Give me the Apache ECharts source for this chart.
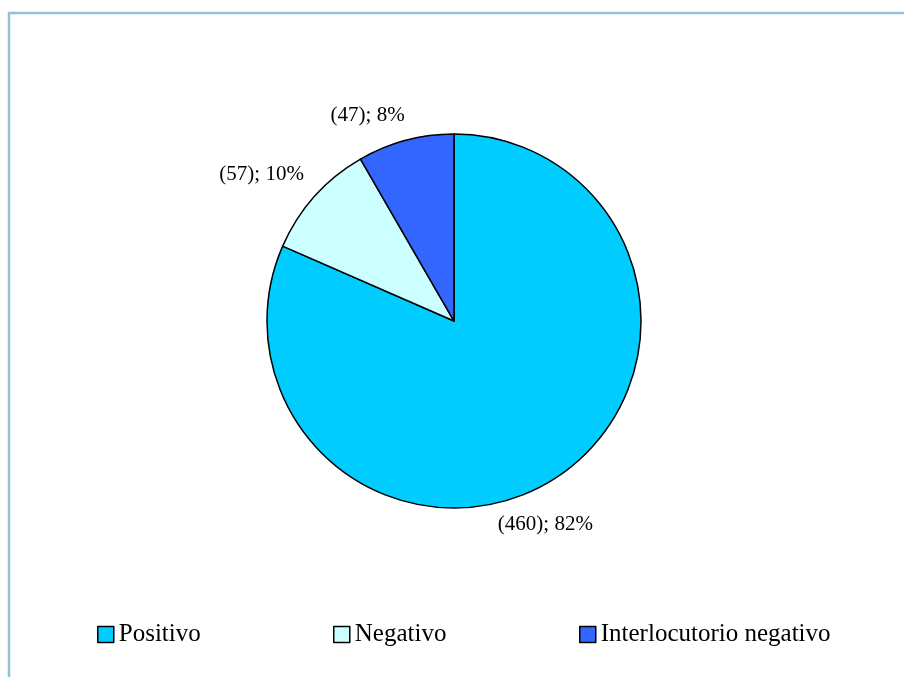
<!DOCTYPE html>
<html>
<head>
<meta charset="utf-8">
<script src="https://cdn.jsdelivr.net/npm/echarts@6/dist/echarts.min.js"></script>
<style>
html,body{margin:0;padding:0;background:#fff;}
#chart{width:904px;height:677px;}
</style>
</head>
<body>
<div id="chart"></div>
<script>
var categories = ['Positivo', 'Negativo', 'Interlocutorio negativo'];
var values = [460, 57, 47];
var colors = ['#00CCFF', '#CCFFFF', '#3366FF'];
// label nudges (dx, dy) relative to the default outside anchor
var labelShift = [[-16, 47], [-48, -22], [-33, -25]];
var legendLefts = [97, 333, 579];

var serif = "'Liberation Serif', 'Times New Roman', serif";

var chart = echarts.init(document.getElementById('chart'), null, {renderer: 'canvas'});

var data = categories.map(function (name, i) {
  return {name: name, value: values[i], itemStyle: {color: colors[i]}};
});

var legends = categories.map(function (name, i) {
  return {
    data: [{name: name, textStyle: {fontFamily: serif, fontSize: 25, color: '#000'}}],
    left: legendLefts[i],
    top: 622,
    padding: 0,
    itemWidth: 16,
    itemHeight: 16,
    itemGap: 5,
    icon: 'rect',
    selectedMode: false,
    textStyle: {fontFamily: serif, fontSize: 25, color: '#000'},
    itemStyle: {borderColor: '#000', borderWidth: 1.5}
  };
});

chart.setOption({
  animation: false,
  backgroundColor: '#fff',
  textStyle: {fontFamily: serif},
  graphic: [{
    type: 'rect',
    shape: {x: 9, y: 13, width: 1000, height: 1000},
    style: {fill: 'none', stroke: '#98BFD6', lineWidth: 2.5},
    silent: true
  }],
  legend: legends,
  series: [{
    type: 'pie',
    center: [454, 321],
    radius: 187,
    startAngle: 90,
    clockwise: true,
    avoidLabelOverlap: false,
    data: data,
    itemStyle: {borderColor: '#000', borderWidth: 1.5},
    emphasis: {disabled: true},
    label: {
      show: true,
      position: 'outside',
      fontFamily: serif,
      fontSize: 21,
      color: '#000',
      formatter: function (p) {
        return '(' + p.value + '); ' + Math.round(p.percent) + '%';
      }
    },
    labelLine: {show: false, length: 0, length2: 0},
    labelLayout: function (p) {
      var s = labelShift[p.dataIndex];
      return {align: 'center', verticalAlign: 'middle', dx: s[0], dy: s[1]};
    }
  }]
});
</script>
</body>
</html>
